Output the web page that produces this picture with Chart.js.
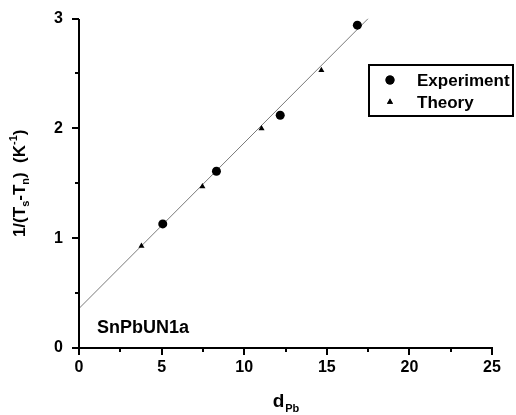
<!DOCTYPE html>
<html>
<head>
<meta charset="utf-8">
<script src="https://cdn.jsdelivr.net/npm/chart.js@4.4.0/dist/chart.umd.min.js"></script>
<style>
  html, body { margin: 0; padding: 0; background: #fff; }
</style>
</head>
<body>
<canvas id="c" width="516" height="415"></canvas>
<script>
// ---- data ----
const experimentX = [5.07, 8.32, 12.18, 16.85];
const experimentY = [1.13, 1.61, 2.12, 2.94];
const theoryX = [3.78, 7.47, 11.05, 14.67];
const theoryY = [0.93, 1.47, 2.00, 2.53];
const fitX = [0, 17.5];
const fitY = [0.36, 3.0];
const xTicks = [0, 5, 10, 15, 20, 25];
const yTicks = [0, 1, 2, 3];
const xMinorTicks = [2.5, 7.5, 12.5, 17.5, 22.5];
const yMinorTicks = [0.5, 1.5, 2.5];
const seriesLabels = ['Experiment', 'Theory'];
const sampleLabel = 'SnPbUN1a';

const FONT = '"Liberation Sans", Arial, Helvetica, sans-serif';

function pts(xs, ys) { return xs.map((x, i) => ({ x: x, y: ys[i] })); }

function seg(ctx, x1, y1, x2, y2) { ctx.moveTo(x1, y1); ctx.lineTo(x2, y2); }

const extras = {
  id: 'extras',
  afterDraw(chart) {
    const ctx = chart.ctx;
    const xs = chart.scales.x, ys = chart.scales.y;
    const area = chart.chartArea;
    ctx.save();
    const L = Math.round(area.left), B = Math.round(area.bottom), T = Math.round(area.top), R = Math.round(area.right);

    // axes and ticks
    ctx.strokeStyle = '#000000';
    ctx.lineWidth = 2;
    ctx.lineCap = 'butt';
    ctx.beginPath();
    seg(ctx, L, T, L, B + 1);
    seg(ctx, L - 1, B, R + 1, B);
    xTicks.forEach(v => { const px = Math.round(xs.getPixelForValue(v)); seg(ctx, px, B, px, B + 7); });
    yTicks.forEach(v => { const py = Math.round(ys.getPixelForValue(v)); seg(ctx, L, py, L - 7, py); });
    xMinorTicks.forEach(v => { const px = Math.round(xs.getPixelForValue(v)); seg(ctx, px, B, px, B + 4); });
    yMinorTicks.forEach(v => { const py = Math.round(ys.getPixelForValue(v)); seg(ctx, L, py, L - 4, py); });
    ctx.stroke();

    ctx.fillStyle = '#000';
    ctx.textBaseline = 'alphabetic';
    ctx.font = 'bold 18px ' + FONT;
    ctx.textAlign = 'left';
    ctx.fillText(sampleLabel, area.left + 18, area.bottom - 15);

    // x title d_Pb
    const xMain = 'd', xSub = 'Pb';
    ctx.font = 'bold 19px ' + FONT;
    const wMain = ctx.measureText(xMain).width;
    ctx.font = 'bold 11px ' + FONT;
    const wSub = ctx.measureText(xSub).width;
    const cx = (area.left + area.right) / 2;
    const sx = cx - (wMain + wSub) / 2;
    const base = 407;
    ctx.font = 'bold 19px ' + FONT;
    ctx.fillText(xMain, sx, base);
    ctx.font = 'bold 11px ' + FONT;
    ctx.fillText(xSub, sx + wMain + 1, base + 5);

    // y title 1/(T_s-T_n) (K^-1)
    const segs = [
      { t: '1/(T', s: 17, dy: 0 },
      { t: 's', s: 11, dy: 4 },
      { t: '-T', s: 17, dy: 0 },
      { t: 'n', s: 11, dy: 4 },
      { t: ')  (K', s: 17, dy: 0 },
      { t: '-1', s: 11, dy: -8 },
      { t: ')', s: 17, dy: 0 }
    ];
    let total = 0;
    segs.forEach(sg => { ctx.font = 'bold ' + sg.s + 'px ' + FONT; sg.w = ctx.measureText(sg.t).width; total += sg.w; });
    ctx.translate(25, (area.top + area.bottom) / 2);
    ctx.rotate(-Math.PI / 2);
    let tx = -total / 2;
    segs.forEach(sg => {
      ctx.font = 'bold ' + sg.s + 'px ' + FONT;
      ctx.fillText(sg.t, tx, sg.dy);
      tx += sg.w;
    });
    ctx.setTransform(1, 0, 0, 1, 0, 0);

    // legend box
    ctx.strokeStyle = '#000000';
    ctx.lineWidth = 2;
    ctx.beginPath();
    ctx.rect(369, 65, 144, 51);
    ctx.stroke();
    const items = [
      { label: seriesLabels[0], style: 'circle', r: 4.5, y: 80 },
      { label: seriesLabels[1], style: 'triangle', r: 3.5, y: 102 }
    ];
    ctx.font = 'bold 17px ' + FONT;
    ctx.textBaseline = 'middle';
    items.forEach(it => {
      ctx.fillStyle = '#000';
      ctx.beginPath();
      Chart.helpers.drawPoint(ctx, { pointStyle: it.style, radius: it.r, borderWidth: 0 }, 390, it.y);
      ctx.fill();
      ctx.fillText(it.label, 417, it.y + 1);
    });
    ctx.restore();
  }
};

new Chart(document.getElementById('c'), {
  type: 'scatter',
  data: {
    datasets: [
      {
        label: 'fit',
        data: pts(fitX, fitY),
        showLine: true,
        borderColor: '#7a7a7a',
        borderWidth: 1,
        pointRadius: 0,
        order: 3
      },
      {
        label: seriesLabels[0],
        data: pts(experimentX, experimentY),
        pointStyle: 'circle',
        pointRadius: 4.5,
        backgroundColor: '#000',
        borderColor: '#000',
        borderWidth: 0,
        order: 1
      },
      {
        label: seriesLabels[1],
        data: pts(theoryX, theoryY),
        pointStyle: 'triangle',
        pointRadius: 3.5,
        backgroundColor: '#000',
        borderColor: '#000',
        borderWidth: 0,
        order: 2
      }
    ]
  },
  options: {
    responsive: false,
    animation: false,
    layout: { padding: { top: 17, right: 24, left: 0, bottom: 0 } },
    plugins: { legend: { display: false }, tooltip: { enabled: false } },
    scales: {
      x: {
        type: 'linear',
        min: 0, max: 25,
        afterBuildTicks: s => { s.ticks = xTicks.map(v => ({ value: v })); },
        afterFit: s => { s.height = 67; },
        ticks: { color: '#000', font: { family: FONT, size: 16, weight: 'bold' }, padding: 3, maxRotation: 0 },
        grid: { drawOnChartArea: false, drawTicks: true, tickLength: 7, color: 'rgba(0,0,0,0)' },
        border: { display: false }
      },
      y: {
        type: 'linear',
        min: 0, max: 3,
        afterBuildTicks: s => { s.ticks = yTicks.map(v => ({ value: v })); },
        afterFit: s => { s.width = 79; },
        ticks: { color: '#000', font: { family: FONT, size: 16, weight: 'bold' }, padding: 9 },
        grid: { drawOnChartArea: false, drawTicks: true, tickLength: 7, color: 'rgba(0,0,0,0)' },
        border: { display: false }
      }
    }
  },
  plugins: [extras]
});
</script>
</body>
</html>
